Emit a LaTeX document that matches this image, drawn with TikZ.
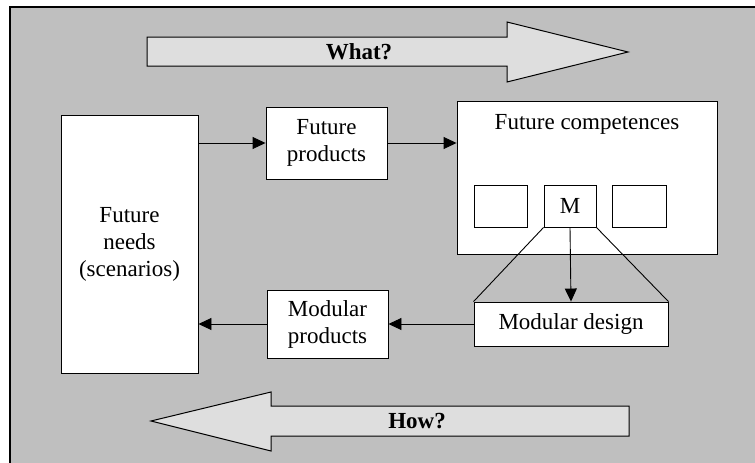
\documentclass[tikz,border=0pt]{standalone}
\usepackage{fontspec}
\setmainfont{Liberation Serif}
\usetikzlibrary{arrows.meta}
\begin{document}
\begin{tikzpicture}[x=1pt,y=-1pt,
  font=\fontsize{23}{27}\selectfont,
  box/.style={draw=black,fill=white,line width=0.9pt,inner sep=0pt,align=center},
  flow/.style={line width=0.9pt,-{Triangle[length=13pt,width=12pt]}},
  bigarrow/.style={draw=black,fill=black!13,line width=1pt,line join=miter},
  lbl/.style={font=\fontsize{23}{27}\selectfont\bfseries}]
\useasboundingbox (0,0) rectangle (755,463);
% panel background, border on top and left edges only
\fill[black!25] (10,7) rectangle (755,463);
\draw[line width=1.8pt] (755,7) -- (10,7) -- (10,463);

% broad direction arrows
\draw[bigarrow] (147,37) -- (507,37) -- (507,22) -- (628,52) -- (507,82) -- (507,66) -- (147,66) -- cycle;
\node[lbl] (what) at (359,52) {What?};
\draw[bigarrow] (629,406) -- (271,406) -- (271,392) -- (151,421) -- (271,451) -- (271,436) -- (629,436) -- cycle;
\node[lbl] (how) at (417,421) {How?};

% main boxes
\node[box,minimum width=137pt,minimum height=258pt] (needs) at (129.5,244) {Future\\needs\\(scenarios)};
\node[box,minimum width=121pt,minimum height=72pt] (fprod) at (326.5,143) {Future\\products};
\node[box,minimum width=260pt,minimum height=153pt] (comp) at (587,177.5) {};
\node (comptext) at (587,124) {Future competences};
\node[box,minimum width=53pt,minimum height=42pt] (c1) at (500.5,206) {};
\node[box,minimum width=52pt,minimum height=42pt] (cm) at (570,206) {M};
\node[box,minimum width=54pt,minimum height=42pt] (c3) at (639,206) {};
\node[box,minimum width=194pt,minimum height=44pt] (mdes) at (571,324) {Modular design};
\node[box,minimum width=121pt,minimum height=68pt] (mprod) at (327.5,324) {Modular\\products};

% connectors
\draw[flow] (needs.east |- fprod.west) -- (fprod.west);
\draw[flow] (fprod.east) -- (comp.west |- fprod.east);
\draw[flow] (cm.south) -- (mdes.north);
\draw[line width=0.9pt] (cm.south west) -- (mdes.north west);
\draw[line width=0.9pt] (cm.south east) -- (mdes.north east);
\draw[flow] (mdes.west) -- (mprod.east);
\draw[flow] (mprod.west) -- (needs.east |- mprod.west);
\end{tikzpicture}
\end{document}
